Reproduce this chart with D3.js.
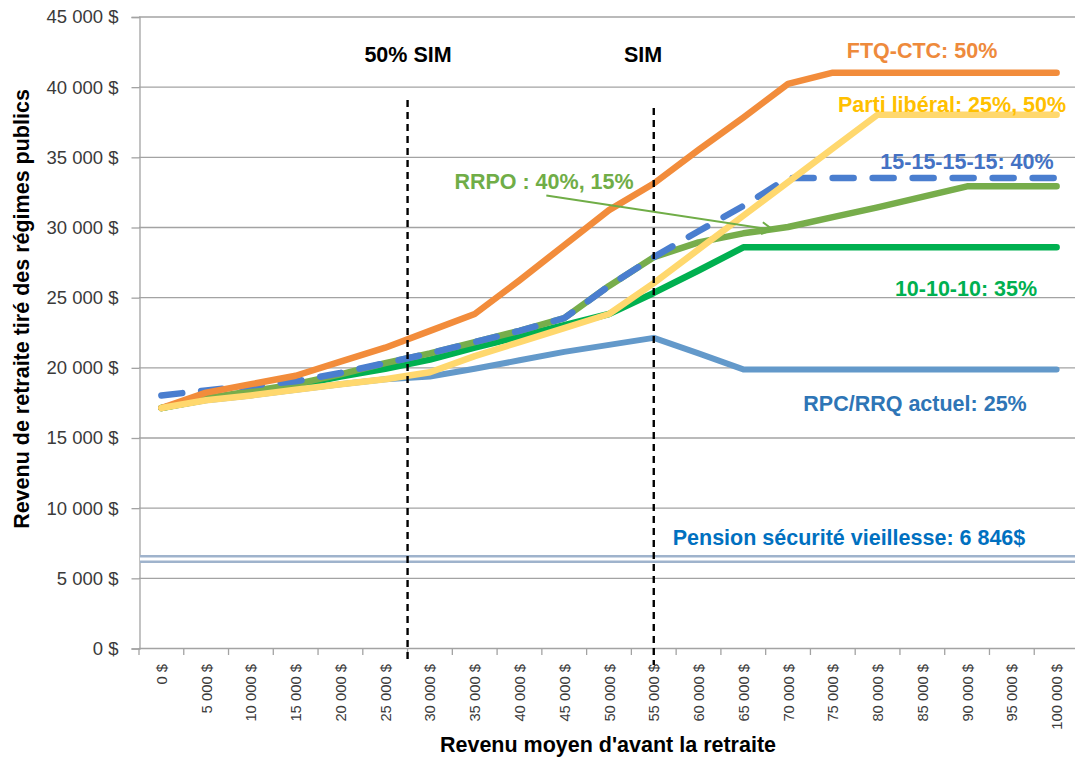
<!DOCTYPE html>
<html>
<head>
<meta charset="utf-8">
<script src="https://cdn.jsdelivr.net/npm/d3@7/dist/d3.min.js"></script>
<style>
  body { margin: 0; background: #fff; }
  svg { display: block; font-family: "Liberation Sans", Arial, sans-serif; }
</style>
</head>
<body>
<div id="chart"></div>
<script>
// revenus d'avant la retraite (categories)
var categories = [0, 5000, 10000, 15000, 20000, 25000, 30000, 35000, 40000, 45000, 50000,
                  55000, 60000, 65000, 70000, 75000, 80000, 85000, 90000, 95000, 100000];

var yTicks = [0, 5000, 10000, 15000, 20000, 25000, 30000, 35000, 40000, 45000];

var rpcActuel   = [17100, 17650, 18000, 18400, 18800, 19150, 19350, 19900, 20500, 21100, 21600, 22100, 21000, 19850, 19850, 19850, 19850, 19850, 19850, 19850, 19850];
var dixDixDix   = [17100, 17700, 18200, 18700, 19350, 19900, 20550, 21400, 22200, 23000, 23800, 25300, 26900, 28550, 28550, 28550, 28550, 28550, 28550, 28550, 28550];
var rrpo        = [17100, 17800, 18300, 18800, 19500, 20300, 21000, 21800, 22600, 23500, 25800, 27850, 28900, 29550, 30000, 30700, 31400, 32150, 32900, 32900, 32900];
var quinze      = [18000, 18350, 18700, 19000, 19600, 20300, 21000, 21800, 22600, 23500, 25800, 27850, 29700, 31500, 33500, 33500, 33500, 33500, 33500, 33500, 33500];
var ftqCtc      = [17100, 18200, 18800, 19400, 20400, 21400, 22600, 23800, 26200, 28700, 31200, 33100, 35500, 37800, 40200, 41000, 41000, 41000, 41000, 41000, 41000];
var partiLiberal= [17100, 17650, 18000, 18400, 18800, 19150, 19650, 20800, 21800, 22800, 23800, 26000, 28400, 30800, 33200, 35600, 38000, 38000, 38000, 38000, 38000];

var pensionSV = 6350;      // trait double
var sim = 55000;           // salaire industriel moyen
var demiSim = sim / 2;

// fleche RRPO : [revenu, montant]
var flecheDebut = [43000, 32250];
var flecheFin = [68300, 29800];

var width = 1075,
    height = 757;

var svg = d3.select("#chart")
            .append("svg")
            .attr("width", width)
            .attr("height", height);

var plotLeft = 139, plotRight = 1079, plotTop = 16.5, plotBottom = 648;

var x = d3.scaleBand()
          .domain(categories)
          .range([plotLeft, plotRight])
          .paddingInner(0)
          .paddingOuter(0);

// position continue pour les lignes verticales
var xv = d3.scaleLinear()
           .domain([0, 5000])
           .range([x(0) + x.bandwidth() / 2, x(5000) + x.bandwidth() / 2]);

var y = d3.scaleLinear()
          .domain([0, 45000])
          .range([plotBottom, plotTop]);

var fmt = function (v) {
  return d3.format(",")(v).replace(/,/g, " ") + " $";
};

// grille horizontale
svg.append("g").selectAll("line.grid")
   .data(yTicks.filter(function (d) { return d > 0; }))
   .enter()
   .append("line")
   .attr("x1", plotLeft)
   .attr("x2", width)
   .attr("y1", function (d) { return y(d) + 0.5; })
   .attr("y2", function (d) { return y(d) + 0.5; })
   .attr("stroke", "#a3a3a3")
   .attr("stroke-width", 1.3);

// axe Y
var yAxis = svg.append("g")
   .attr("transform", "translate(" + (plotLeft + 0.5) + ",0.5)")
   .call(d3.axisLeft(y).tickValues(yTicks).tickSize(8).tickPadding(13).tickFormat(fmt));
yAxis.select(".domain").attr("stroke", "#a3a3a3").attr("stroke-width", 1.3);
yAxis.selectAll(".tick line").attr("stroke", "#a3a3a3").attr("stroke-width", 1.3);
yAxis.selectAll(".tick text")
     .attr("fill", "#3a3a3a")
     .style("font-size", "18.5px")
     .attr("font-family", "'Liberation Sans', Arial, sans-serif");

// axe X (graduations entre les categories)
var bounds = categories.map(function (d) { return x(d); }).concat([plotRight]);
svg.append("line")
   .attr("x1", plotLeft).attr("x2", width)
   .attr("y1", plotBottom + 0.5).attr("y2", plotBottom + 0.5)
   .attr("stroke", "#a3a3a3").attr("stroke-width", 1.3);
svg.append("g").selectAll("line.xtick")
   .data(bounds)
   .enter()
   .append("line")
   .attr("x1", function (d) { return d; })
   .attr("x2", function (d) { return d; })
   .attr("y1", plotBottom)
   .attr("y2", plotBottom + 7)
   .attr("stroke", "#a3a3a3")
   .attr("stroke-width", 1.3);

svg.append("g").selectAll("text.xlabel")
   .data(categories)
   .enter()
   .append("text")
   .attr("transform", function (d) {
      return "translate(" + (x(d) + x.bandwidth() / 2 + 5.5) + "," + 664 + ") rotate(-90)";
   })
   .attr("text-anchor", "end")
   .attr("fill", "#3a3a3a")
   .style("font-size", "14.8px")
   .text(fmt);

// pension de securite de la vieillesse : trait double
svg.append("line")
   .attr("x1", plotLeft + 1).attr("x2", width)
   .attr("y1", y(pensionSV)).attr("y2", y(pensionSV))
   .attr("stroke", "#9fb3cc").attr("stroke-width", 8);
svg.append("line")
   .attr("x1", plotLeft + 1).attr("x2", width)
   .attr("y1", y(pensionSV)).attr("y2", y(pensionSV))
   .attr("stroke", "#ffffff").attr("stroke-width", 3);

// series
var series = [
  { name: "RPC/RRQ actuel", values: rpcActuel,    color: "#6399ca", width: 6,   dash: null },
  { name: "10-10-10",       values: dixDixDix,    color: "#00b050", width: 6.5, dash: null },
  { name: "RRPO",           values: rrpo,         color: "#77ad4b", width: 6.5, dash: null },
  { name: "15-15-15-15",    values: quinze,       color: "#4a7ecf", width: 6.5, dash: "21,19" },
  { name: "FTQ-CTC",        values: ftqCtc,       color: "#f28c3b", width: 6.5, dash: null },
  { name: "Parti libéral",  values: partiLiberal, color: "#ffd86e", width: 6.5, dash: null }
];

var line = d3.line()
   .x(function (d, i) { return x(categories[i]) + x.bandwidth() / 2; })
   .y(function (d) { return y(d); });

svg.append("g").selectAll("path.serie")
   .data(series)
   .enter()
   .append("path")
   .attr("d", function (d) { return line(d.values); })
   .attr("fill", "none")
   .attr("stroke", function (d) { return d.color; })
   .attr("stroke-width", function (d) { return d.width; })
   .attr("stroke-dasharray", function (d) { return d.dash; })
   .attr("stroke-linecap", "round")
   .attr("stroke-linejoin", "round");

// lignes verticales 50% SIM et SIM
svg.append("line")
   .attr("x1", xv(demiSim)).attr("x2", xv(demiSim))
   .attr("y1", 100).attr("y2", 663)
   .attr("stroke", "#000").attr("stroke-width", 2.4)
   .attr("stroke-dasharray", "7,5");
svg.append("line")
   .attr("x1", xv(sim)).attr("x2", xv(sim))
   .attr("y1", 108).attr("y2", 665)
   .attr("stroke", "#000").attr("stroke-width", 2.4)
   .attr("stroke-dasharray", "7,5");

// fleche RRPO
svg.append("marker")
   .attr("id", "rrpo-arrow")
   .attr("markerWidth", 14)
   .attr("markerHeight", 14)
   .attr("refX", 12)
   .attr("refY", 7)
   .attr("orient", "auto")
   .attr("markerUnits", "userSpaceOnUse")
   .append("path")
   .attr("d", "M 1,1 L 12,7 L 1,13")
   .attr("fill", "none")
   .attr("stroke", "#70ad47")
   .attr("stroke-width", 2);

svg.append("line")
   .attr("x1", xv(flecheDebut[0])).attr("y1", y(flecheDebut[1]))
   .attr("x2", xv(flecheFin[0])).attr("y2", y(flecheFin[1]))
   .attr("stroke", "#70ad47")
   .attr("stroke-width", 2)
   .attr("marker-end", "url(#rrpo-arrow)");

// etiquettes
var labels = [
  { text: "50% SIM", x: 408, y: 62, color: "#000000", anchor: "middle" },
  { text: "SIM", x: 643, y: 62, color: "#000000", anchor: "middle" },
  { text: "FTQ-CTC: 50%", x: 922, y: 58, color: "#ee8a3c", anchor: "middle" },
  { text: "Parti libéral: 25%, 50%", x: 952, y: 112, color: "#ffc000", anchor: "middle" },
  { text: "15-15-15-15: 40%", x: 967, y: 169, color: "#4472c4", anchor: "middle" },
  { text: "RRPO : 40%, 15%", x: 544, y: 189, color: "#70ad47", anchor: "middle" },
  { text: "10-10-10: 35%", x: 966, y: 296, color: "#00b050", anchor: "middle" },
  { text: "RPC/RRQ actuel: 25%", x: 915, y: 411, color: "#2e75b6", anchor: "middle" },
  { text: "Pension sécurité vieillesse: 6 846$", x: 849, y: 545, color: "#0070c0", anchor: "middle" }
];

svg.append("g").selectAll("text.annot")
   .data(labels)
   .enter()
   .append("text")
   .attr("x", function (d) { return d.x; })
   .attr("y", function (d) { return d.y; })
   .attr("text-anchor", function (d) { return d.anchor; })
   .attr("fill", function (d) { return d.color; })
   .style("font-size", "21.5px")
   .style("font-weight", "bold")
   .text(function (d) { return d.text; });

// titres des axes
svg.append("text")
   .attr("x", 608)
   .attr("y", 752)
   .attr("text-anchor", "middle")
   .style("font-size", "21.5px")
   .style("font-weight", "bold")
   .attr("fill", "#000")
   .text("Revenu moyen d'avant la retraite");

svg.append("text")
   .attr("transform", "translate(29,309) rotate(-90)")
   .attr("text-anchor", "middle")
   .style("font-size", "21.5px")
   .style("font-weight", "bold")
   .attr("fill", "#000")
   .text("Revenu de retraite tiré des régimes publics");
</script>
</body>
</html>
